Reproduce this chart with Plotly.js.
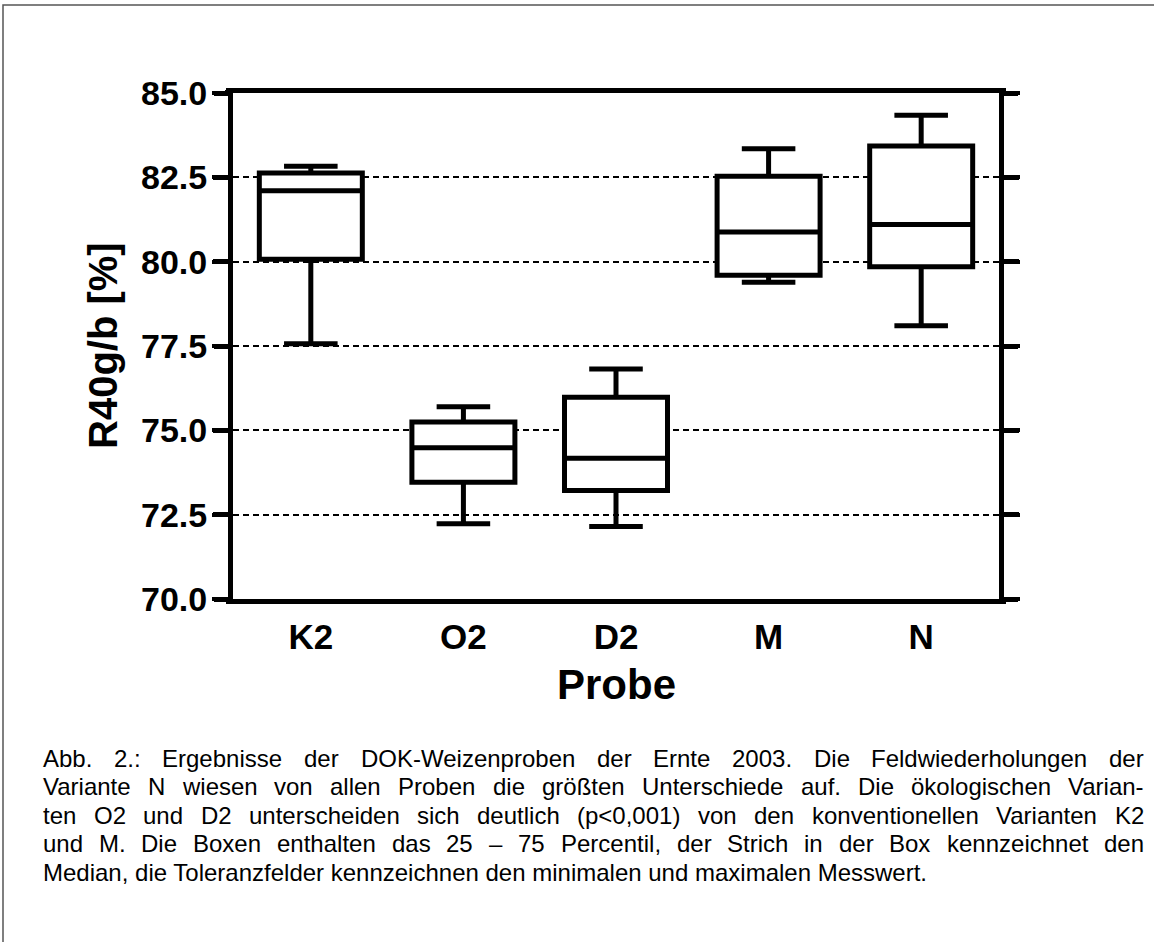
<!DOCTYPE html>
<html>
<head>
<meta charset="utf-8">
<script src="https://cdn.plot.ly/plotly-3.0.1.min.js"></script>
<style>
  html, body { margin: 0; padding: 0; background: #fff; }
  #chart { width: 1154px; height: 942px; }
  .xlines-above, .ylines-above, path.ytick { stroke-linecap: round; }
</style>
</head>
<body>
<div id="chart"></div>
<script>
// ---- data ----
const categories = ['K2', 'O2', 'D2', 'M', 'N'];
const lowerWhisker = [77.57, 72.23, 72.15, 79.39, 78.10];
const q1Values     = [80.07, 73.46, 73.22, 79.60, 79.85];
const medianValues = [82.10, 74.48, 74.17, 80.88, 81.10];
const q3Values     = [82.63, 75.25, 75.98, 82.53, 83.43];
const upperWhisker = [82.83, 75.70, 76.82, 83.35, 84.34];
const yTickValues  = [70, 72.5, 75, 77.5, 80, 82.5, 85];
const yTickLabels  = ['70.0', '72.5', '75.0', '77.5', '80.0', '82.5', '85.0'];
const xTitle = 'Probe';
const yTitle = 'R40g/b [%]';
const captionLines = [
  'Abb. 2.: Ergebnisse der DOK-Weizenproben der Ernte 2003. Die Feldwiederholungen der',
  'Variante N wiesen von allen Proben die größten Unterschiede auf. Die ökologischen Varian-',
  'ten O2 und D2 unterscheiden sich deutlich (p<0,001) von den konventionellen Varianten K2',
  'und M. Die Boxen enthalten das 25 – 75 Percentil, der Strich in der Box kennzeichnet den',
  'Median, die Toleranzfelder kennzeichnen den minimalen und maximalen Messwert.'
];

// ---- layout geometry ----
const W = 1154, H = 942;
const M = { l: 233, r: 155, t: 93, b: 343 };
const PW = W - M.l - M.r, PH = H - M.t - M.b;
const px2x = px => (px - M.l) / PW;
const py2y = py => (H - M.b - py) / PH;

const FONT = 'Liberation Sans, Arial, sans-serif';

const trace = {
  type: 'box',
  x: categories,
  q1: q1Values,
  median: medianValues,
  q3: q3Values,
  lowerfence: lowerWhisker,
  upperfence: upperWhisker,
  boxpoints: false,
  width: 0.675,
  whiskerwidth: 0.52,
  fillcolor: '#ffffff',
  line: { color: '#000000', width: 5 },
  hoverinfo: 'skip',
  showlegend: false
};

// ---- caption (justified, word by word) ----
const capSize = 24;
const capLeft = 42, capRight = 1143;
const capTop = 758, capStep = 28.5;
const canvas = document.createElement('canvas');
const ctx = canvas.getContext('2d');
ctx.font = capSize + 'px "Liberation Sans"';
const annotations = [];
captionLines.forEach((line, i) => {
  const yy = py2y(capTop + i * capStep);
  if (i === captionLines.length - 1) {
    annotations.push({
      xref: 'paper', yref: 'paper', x: px2x(capLeft), y: yy,
      xanchor: 'left', yanchor: 'middle', showarrow: false, borderpad: 0,
      text: line, font: { family: FONT, size: capSize, color: '#000' }
    });
    return;
  }
  const words = line.split(' ');
  const widths = words.map(w => ctx.measureText(w).width);
  const total = widths.reduce((a, b) => a + b, 0);
  const gap = (capRight - capLeft - total) / (words.length - 1);
  let cx = capLeft;
  words.forEach((w, j) => {
    annotations.push({
      xref: 'paper', yref: 'paper', x: px2x(cx), y: yy,
      xanchor: 'left', yanchor: 'middle', showarrow: false, borderpad: 0,
      text: w.replace(/</g, '&lt;'), font: { family: FONT, size: capSize, color: '#000' }
    });
    cx += widths[j] + gap;
  });
});

// axis titles
annotations.push({
  xref: 'paper', yref: 'paper', x: px2x(103), y: 0.5,
  xanchor: 'center', yanchor: 'middle', textangle: -90, showarrow: false,
  text: yTitle, font: { family: FONT, size: 40, weight: 'bold', color: '#000' }
});
annotations.push({
  xref: 'paper', yref: 'paper', x: 0.5, y: py2y(684),
  xanchor: 'center', yanchor: 'middle', showarrow: false,
  text: xTitle, font: { family: FONT, size: 42, weight: 'bold', color: '#000' }
});

const layout = {
  width: W, height: H,
  margin: M,
  paper_bgcolor: '#ffffff',
  plot_bgcolor: '#ffffff',
  showlegend: false,
  xaxis: {
    type: 'category',
    range: [-0.51, 4.51],
    showline: true, linecolor: '#000', linewidth: 5, mirror: true,
    showgrid: false, zeroline: false,
    ticks: 'outside', ticklen: 3, tickcolor: 'rgba(0,0,0,0)',
    tickfont: { family: FONT, size: 35, weight: 'bold', color: '#000' },
    fixedrange: true
  },
  yaxis: {
    range: [70, 85],
    tickvals: yTickValues,
    ticktext: yTickLabels,
    showline: true, linecolor: '#000', linewidth: 5, mirror: 'ticks',
    ticks: 'outside', ticklen: 14, tickwidth: 5, tickcolor: '#000',
    showgrid: true, gridcolor: '#000', gridwidth: 2, griddash: '6px,4px',
    zeroline: false,
    tickfont: { family: FONT, size: 34, weight: 'bold', color: '#000' },
    fixedrange: true
  },
  shapes: [{
    type: 'rect', xref: 'paper', yref: 'paper',
    x0: px2x(3), x1: px2x(1200), y0: py2y(1000), y1: py2y(5),
    line: { color: '#555555', width: 1.5 }, fillcolor: 'rgba(0,0,0,0)', layer: 'below'
  }],
  annotations: annotations
};

Plotly.newPlot('chart', [trace], layout, { staticPlot: true, displayModeBar: false });
</script>
</body>
</html>
